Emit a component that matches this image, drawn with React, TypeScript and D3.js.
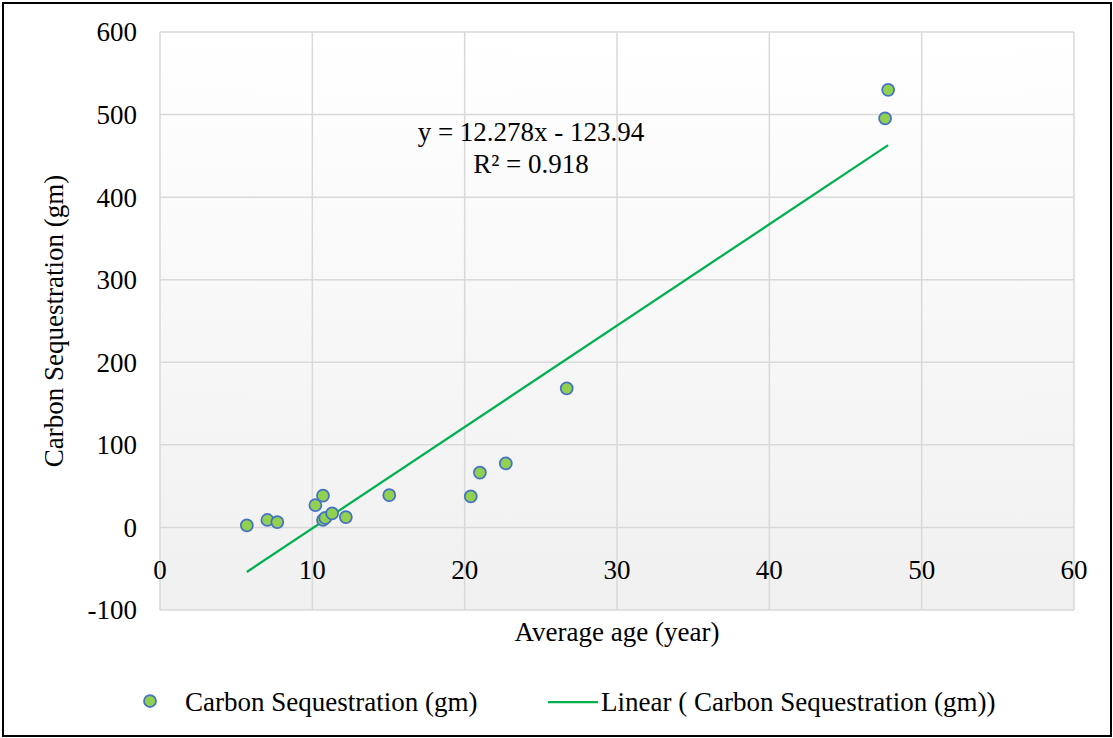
import React from "react";
import * as d3 from "d3";

const ageX = [5.7, 7.05, 7.7, 10.2, 10.7, 10.7, 10.85, 11.3, 12.2, 15.05, 20.4, 21.0, 22.7, 26.7, 47.6, 47.8];
const carbonY = [2.5, 9, 6.5, 27, 38.5, 9, 11.5, 17, 12.5, 39, 37.5, 66.5, 77.5, 168.5, 495.5, 530];
const xTicks = [0, 10, 20, 30, 40, 50, 60];
const yTicks = [-100, 0, 100, 200, 300, 400, 500, 600];
const slope = 12.278;
const intercept = -123.94;
const eqText = "y = 12.278x - 123.94";
const r2Text = "R² = 0.918";
const seriesName = "Carbon Sequestration (gm)";
const trendName = "Linear ( Carbon Sequestration (gm))";
const xTitle = "Average age (year)";
const yTitle = "Carbon Sequestration (gm)";

const W = 1113;
const H = 738;
const L = 160, R = 1074, T = 32, B = 610;
const FONT = "Liberation Serif, Times New Roman, DejaVu Serif, serif";

export default function App() {
  const x = d3.scaleLinear().domain([0, 60]).range([L, R]);
  const y = d3.scaleLinear().domain([-100, 600]).range([B, T]);
  const xMin = d3.min(ageX) as number;
  const xMax = d3.max(ageX) as number;
  const line = d3.line<number>().x((d) => x(d)).y((d) => y(slope * d + intercept));
  const fs = 27;
  const ts: React.CSSProperties = { fontFamily: FONT };
  return (
    <svg width={W} height={H} style={{ position: "absolute", left: 0, top: 0, display: "block", fontFamily: FONT }}>
      <defs>
        <linearGradient id="bg" x1="0" y1="0" x2="0" y2="1">
          <stop offset="0" stopColor="#ffffff" />
          <stop offset="1" stopColor="#f0f0f0" />
        </linearGradient>
      </defs>
      <rect x={0} y={0} width={W} height={H} fill="#fff" />
      <rect x={3} y={3} width={1108} height={733} fill="none" stroke="#000" strokeWidth={2} />
      <rect x={L} y={T} width={R - L} height={B - T} fill="url(#bg)" />
      {yTicks.map((t) => (
        <line key={"gy" + t} x1={L} x2={R} y1={y(t)} y2={y(t)} stroke="#d9d9d9" strokeWidth={1.5} />
      ))}
      {xTicks.map((t) => (
        <line key={"gx" + t} x1={x(t)} x2={x(t)} y1={T} y2={B} stroke="#d9d9d9" strokeWidth={1.5} />
      ))}
      {yTicks.map((t) => (
        <text key={"ty" + t} style={ts} x={137} y={y(t)} dy="0.35em" textAnchor="end" fontSize={fs} fill="#000">{t}</text>
      ))}
      {xTicks.map((t) => (
        <text key={"tx" + t} style={ts} x={x(t)} y={579} textAnchor="middle" fontSize={fs} fill="#000">{t}</text>
      ))}
      <path d={line([xMin, xMax]) || ""} stroke="#00b050" strokeWidth={2.25} fill="none" />
      {ageX.map((v, i) => (
        <circle key={"p" + i} cx={x(v)} cy={y(carbonY[i])} r={6} fill="#92d050" stroke="#4472c4" strokeWidth={1.75} />
      ))}
      <text style={ts} x={531} y={141} textAnchor="middle" fontSize={fs} fill="#000">{eqText}</text>
      <text style={ts} x={531} y={173} textAnchor="middle" fontSize={fs} fill="#000">{r2Text}</text>
      <text style={ts} x={617} y={641} textAnchor="middle" fontSize={fs} fill="#000">{xTitle}</text>
      <text style={ts} transform={`translate(63, ${(T + B) / 2}) rotate(-90)`} textAnchor="middle" fontSize={fs} fill="#000">{yTitle}</text>
      <circle cx={150} cy={701} r={6} fill="#92d050" stroke="#4472c4" strokeWidth={1.75} />
      <text style={ts} x={185} y={711} fontSize={fs} fill="#000">{seriesName}</text>
      <line x1={548} x2={598} y1={702} y2={702} stroke="#00b050" strokeWidth={2.25} />
      <text style={ts} x={601} y={711} fontSize={fs} fill="#000">{trendName}</text>
    </svg>
  );
}
